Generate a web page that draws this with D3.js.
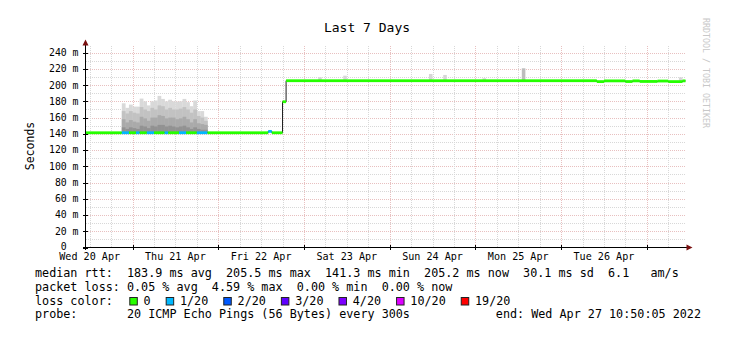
<!DOCTYPE html>
<html>
<head>
<meta charset="utf-8">
<script src="https://cdn.jsdelivr.net/npm/d3@7"></script>
<style>
  html, body { margin: 0; padding: 0; background: #fff; }
  svg { display: block; font-family: "DejaVu Sans Mono", monospace; }
  text { white-space: pre; }
</style>
</head>
<body>
<svg id="chart" width="741" height="352"></svg>
<script>
const parseTime = d3.utcParse("%Y-%m-%d %H:%M:%S")
const startTime = "2022-04-20 10:50:05"
const endTime = "2022-04-27 10:50:05"

const yTicks = [0, 20, 40, 60, 80, 100, 120, 140, 160, 180, 200, 220, 240]
const yTickLabels = ["0  ", "20 m", "40 m", "60 m", "80 m", "100 m", "120 m", "140 m", "160 m", "180 m", "200 m", "220 m", "240 m"]

// median rtt (ms), step changes
const medianTimes = [
  "2022-04-20 10:50:05", "2022-04-22 14:00:00", "2022-04-22 15:00:00", "2022-04-22 18:00:00",
  "2022-04-22 19:00:00", "2022-04-26 10:00:00", "2022-04-26 12:00:00", "2022-04-26 18:00:00",
  "2022-04-26 20:00:00", "2022-04-26 22:00:00", "2022-04-27 03:00:00", "2022-04-27 06:00:00",
  "2022-04-27 10:00:00"
]
const medianValues = [141.3, 143.0, 141.3, 179.5, 205.4, 204.3, 205.2, 204.4, 205.2, 204.5, 205.0, 204.3, 205.2]

// packet loss periods (index into lossColors)
const lossStarts = ["2022-04-20 21:00:00", "2022-04-21 01:00:00", "2022-04-21 04:00:00", "2022-04-21 09:00:00",
  "2022-04-21 13:00:00", "2022-04-21 18:00:00", "2022-04-22 14:00:00"]
const lossEnds = ["2022-04-20 23:00:00", "2022-04-21 02:00:00", "2022-04-21 06:00:00", "2022-04-21 10:00:00",
  "2022-04-21 15:00:00", "2022-04-21 21:00:00", "2022-04-22 15:00:00"]
const lossLevels = [1, 1, 1, 1, 1, 1, 1]

// hourly smoke (ping spread) from Apr 20 21:00
const smokeStart = "2022-04-20 21:00:00"
const smokeMax = [177.6, 172, 176, 173.5, 173.5, 183.4, 180, 175, 180, 181, 186.7, 183, 180, 182, 180, 179.7, 180, 183, 179, 174, 181, 168, 168, 161]
const smokeQ3 = [168, 165, 168, 166, 165, 173, 170, 168, 172, 170, 175, 174, 170, 172, 170, 170, 171, 173, 170, 166, 170, 162, 160, 156]
const smokeQ2 = [158, 154, 157, 155, 154, 161, 159, 156, 160, 160, 163, 162, 159, 160, 160, 158, 159, 161, 158, 154, 158, 153, 152, 151]
const smokeQ1 = [148, 146, 148, 147, 146, 150, 149, 147, 150, 149, 151, 151, 149, 150, 149, 148, 149, 150, 148, 146, 148, 146, 145, 145]

// isolated smoke spikes after the jump
const spikeTimes = ["2022-04-23 04:00:00", "2022-04-23 11:00:00", "2022-04-24 11:00:00", "2022-04-24 15:00:00",
  "2022-04-25 02:00:00", "2022-04-25 13:00:00", "2022-04-27 09:00:00"]
const spikeMax = [209.6, 211.6, 213.7, 212.5, 208.5, 220.7, 209.5]

const lossColorLabels = ["0", "1/20", "2/20", "3/20", "4/20", "10/20", "19/20"]
const lossColors = ["#26ff00", "#00b8ff", "#0059ff", "#5e00ff", "#7e00ff", "#dd00ff", "#ff0000"]

const rttLine = "median rtt:  183.9 ms avg  205.5 ms max  141.3 ms min  205.2 ms now  30.1 ms sd  6.1   am/s"
const lossLine = "packet loss: 0.05 % avg  4.59 % max  0.00 % min  0.00 % now"
const probeLine = "probe:       20 ICMP Echo Pings (56 Bytes) every 300s"
const endLine = "end: Wed Apr 27 10:50:05 2022"

const svg = d3.select("#chart")
const t0 = parseTime(startTime)
const t1 = parseTime(endTime)

const x = d3.scaleUtc().domain([t0, t1]).range([85.5, 685.5])
const y = d3.scaleLinear().domain([0, 250]).range([247.5, 44.5])
const px = v => Math.round(v) + 0.5

svg.append("rect").attr("width", 741).attr("height", 352).attr("fill", "#fff")

// grid
const grid = svg.append("g").attr("shape-rendering", "crispEdges").attr("stroke-width", 1).attr("stroke-dasharray", "1,1")
d3.range(10, 250, 10).forEach(v => {
  grid.append("line")
    .attr("x1", 86).attr("x2", 686)
    .attr("y1", px(y(v))).attr("y2", px(y(v)))
    .attr("stroke", v % 20 === 0 ? "#e8c0c0" : "#d8d8d8")
})
x.ticks(d3.utcHour.every(6)).forEach(t => {
  const major = t.getUTCHours() === 0
  grid.append("line")
    .attr("x1", px(x(t))).attr("x2", px(x(t)))
    .attr("y1", 247).attr("y2", 45)
    .attr("stroke", major ? "#e8c0c0" : "#d8d8d8")
})

// smoke
const base = y(141.3)
const smokeLayers = [[smokeMax, "#d9d9d9"], [smokeQ3, "#c2c2c2"], [smokeQ2, "#aaaaaa"], [smokeQ1, "#929292"]]
const s0 = parseTime(smokeStart)
smokeLayers.forEach(([vals, color]) => {
  svg.append("g").selectAll("rect")
    .data(vals)
    .enter()
    .append("rect")
    .attr("x", (d, i) => x(d3.utcHour.offset(s0, i)))
    .attr("width", (d, i) => x(d3.utcHour.offset(s0, i + 1)) - x(d3.utcHour.offset(s0, i)) + 0.2)
    .attr("y", d => y(d))
    .attr("height", d => base - y(d))
    .attr("fill", color)
})

svg.append("g").selectAll("rect")
  .data(spikeTimes.map((t, i) => ({ t: parseTime(t), v: spikeMax[i] })))
  .enter()
  .append("rect")
  .attr("x", d => x(d.t))
  .attr("width", d => x(d3.utcHour.offset(d.t, 1)) - x(d.t))
  .attr("y", d => y(d.v))
  .attr("height", d => y(205.2) - y(d.v))
  .attr("fill", d => d.v > 215 ? "#bdbdbd" : "#d6d6d6")

// median: black step line, then loss-coloured bars
const mTimes = medianTimes.map(parseTime)
const medianPts = mTimes.map((t, i) => [t, medianValues[i]]).concat([[t1, medianValues[medianValues.length - 1]]])
svg.append("path")
  .attr("d", d3.line().x(d => x(d[0])).y(d => y(d[1])).curve(d3.curveStepAfter)(medianPts))
  .attr("fill", "none")
  .attr("stroke", "#202020")
  .attr("stroke-width", 1)

const lossS = lossStarts.map(parseTime)
const lossE = lossEnds.map(parseTime)
const cuts = Array.from(new Set([...mTimes, ...lossS, ...lossE, t1].map(d => +d))).sort((a, b) => a - b)
const pieces = []
for (let i = 0; i < cuts.length - 1; i++) {
  const a = cuts[i], b = cuts[i + 1]
  let mi = 0
  mTimes.forEach((t, j) => { if (+t <= a) mi = j })
  let lvl = 0
  lossS.forEach((s, j) => { if (+s <= a && a < +lossE[j]) lvl = lossLevels[j] })
  pieces.push({ a, b, v: medianValues[mi], lvl })
}
svg.append("g").selectAll("rect")
  .data(pieces)
  .enter()
  .append("rect")
  .attr("x", d => x(d.a))
  .attr("width", d => x(d.b) - x(d.a))
  .attr("y", d => y(d.v) - 1.4)
  .attr("height", 2.8)
  .attr("fill", d => lossColors[d.lvl])

// axes
const axis = svg.append("g").attr("shape-rendering", "crispEdges")
axis.append("line").attr("x1", 85.5).attr("x2", 85.5).attr("y1", 249.5).attr("y2", 43).attr("stroke", "#000")
axis.append("line").attr("x1", 83).attr("x2", 688).attr("y1", 247.5).attr("y2", 247.5).attr("stroke", "#000")
yTicks.forEach(v => {
  axis.append("line").attr("x1", 83).attr("x2", 88).attr("y1", px(y(v))).attr("y2", px(y(v))).attr("stroke", "#000")
})
x.ticks(d3.utcDay).forEach(t => {
  axis.append("line").attr("x1", px(x(t))).attr("x2", px(x(t))).attr("y1", 245).attr("y2", 250).attr("stroke", "#000")
})
svg.append("path").attr("d", "M85.5,39.5 L82.5,45.5 L88.5,45.5 Z").attr("fill", "#7a1010")
svg.append("path").attr("d", "M692.5,247.5 L686.5,244.5 L686.5,250.5 Z").attr("fill", "#7a1010")

// tick labels
svg.append("g").selectAll("text")
  .data(yTicks)
  .enter()
  .append("text")
  .attr("x", 78.5)
  .attr("y", d => y(d))
  .attr("dy", d => d === 0 ? "0.28em" : "0.35em")
  .attr("text-anchor", "end")
  .style("font-size", "9.8px")
  .attr("fill", "#000")
  .text((d, i) => yTickLabels[i])

const fmtDay = d3.utcFormat("%a %d %b")
svg.append("g").selectAll("text")
  .data(d3.utcDay.range(d3.utcDay.floor(t0), t1).map(d => d3.utcHour.offset(d, 12)).filter(d => d < t1))
  .enter()
  .append("text")
  .attr("x", d => x(d))
  .attr("y", 260)
  .attr("text-anchor", "middle")
  .style("font-size", "10.1px")
  .attr("fill", "#000")
  .text(d => fmtDay(d))

// titles
svg.append("text").attr("x", 367).attr("y", 31.5).attr("text-anchor", "middle")
  .style("font-size", "13px").attr("fill", "#000").text("Last 7 Days")
svg.append("text").attr("transform", "translate(33.5,146) rotate(-90)").attr("text-anchor", "middle")
  .style("font-size", "11.5px").attr("fill", "#000").text("Seconds")
svg.append("text").attr("transform", "translate(703,18) rotate(90)")
  .style("font-size", "8.3px").attr("fill", "#c8c8c8").text("RRDTOOL / TOBI OETIKER")

// legend
const legendFont = "11.75px"
const rows = [[rttLine, 277], [lossLine, 290.7], [probeLine, 318.3]]
rows.forEach(([txt, yy]) => {
  svg.append("text").attr("x", 35).attr("y", yy).style("font-size", legendFont).attr("fill", "#000").text(txt)
})
svg.append("text").attr("x", 701).attr("y", 318.3).attr("text-anchor", "end")
  .style("font-size", legendFont).attr("fill", "#000").text(endLine)
svg.append("text").attr("x", 35).attr("y", 304.7).style("font-size", legendFont).attr("fill", "#000").text("loss color:")

let lx = 129.3
lossColorLabels.forEach((lab, i) => {
  svg.append("rect")
    .attr("x", lx + 0.5).attr("y", 297.5)
    .attr("width", 7.5).attr("height", 7.5)
    .attr("fill", lossColors[i])
    .attr("stroke", "#222").attr("stroke-width", 1)
  const t = svg.append("text").attr("x", lx + 14.3).attr("y", 304.7)
    .style("font-size", legendFont).attr("fill", "#000").text(lab)
  lx = lx + 14.3 + t.node().getComputedTextLength() + 15
})
</script>
</body>
</html>
